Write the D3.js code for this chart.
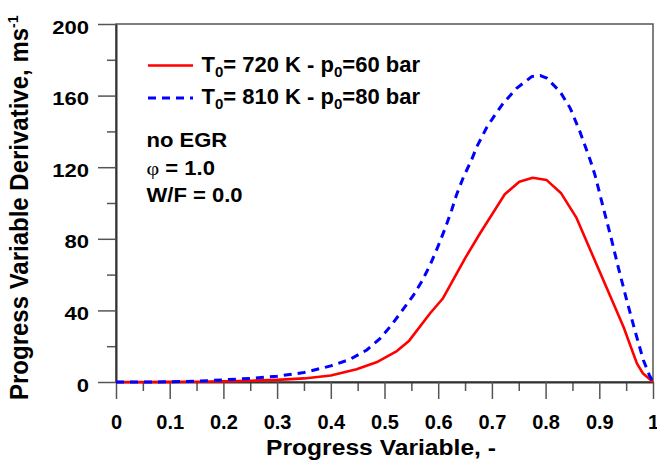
<!DOCTYPE html>
<html>
<head>
<meta charset="utf-8">
<script src="https://cdn.jsdelivr.net/npm/d3@7"></script>
<style>
  html, body { margin: 0; padding: 0; background: #fff; }
  svg { display: block; font-family: "Liberation Sans", Arial, sans-serif; font-weight: bold; }
</style>
</head>
<body>
<svg id="chart" width="657" height="465"></svg>
<script>
// Progress variable derivative vs progress variable, two initial conditions
const xRed = [0, 0.05, 0.1, 0.15, 0.2, 0.25, 0.3, 0.35, 0.4, 0.448, 0.485, 0.523, 0.546, 0.585, 0.609, 0.65, 0.678, 0.724, 0.751, 0.776, 0.802, 0.829, 0.857, 0.945, 0.97, 0.981, 1.0];
const yRed = [0, 0, 0.05, 0.15, 0.35, 0.7, 1.2, 2.0, 3.6, 7.1, 11.0, 17.3, 23.1, 38.4, 46.8, 69.1, 83.1, 104.9, 111.9, 114.1, 112.8, 105.4, 92.0, 30.9, 10.4, 4.9, 0];

const xBlue = [0, 0.05, 0.1, 0.15, 0.2, 0.25, 0.3, 0.35, 0.4, 0.436, 0.467, 0.492, 0.513, 0.532, 0.554, 0.569, 0.585, 0.6, 0.613, 0.625, 0.634, 0.647, 0.662, 0.672, 0.69, 0.703, 0.721, 0.746, 0.774, 0.79, 0.802, 0.827, 0.846, 0.864, 0.883, 0.892, 0.907, 0.923, 0.935, 0.951, 0.966, 0.982, 0.993, 1.0];
const yBlue = [0, 0, 0.1, 0.4, 1.2, 2.0, 3.2, 5.3, 9.0, 12.7, 17.9, 24.4, 31.8, 39.5, 48.5, 56.0, 65.4, 76.0, 85.9, 96.0, 104.5, 114.5, 124.0, 131.5, 142.0, 148.0, 155.7, 164.1, 170.6, 171.2, 169.8, 162.2, 152.9, 139.8, 124.0, 115.6, 97.9, 79.3, 64.4, 45.8, 29.1, 12.3, 4.0, 0];

const xTicks = [0, 0.1, 0.2, 0.3, 0.4, 0.5, 0.6, 0.7, 0.8, 0.9, 1];
const xTickLabels = ["0", "0.1", "0.2", "0.3", "0.4", "0.5", "0.6", "0.7", "0.8", "0.9", "1"];
const xMinorTicks = [0.05, 0.15, 0.25, 0.35, 0.45, 0.55, 0.65, 0.75, 0.85, 0.95];
const yTicks = [0, 40, 80, 120, 160, 200];
const yMinorTicks = [20, 60, 100, 140, 180];

const svg = d3.select("#chart");
const x = d3.scaleLinear().domain([0, 1]).range([116, 653]);
const y = d3.scaleLinear().domain([0, 200]).range([382, 24]);

// plot frame (top and right sides)
svg.append("rect")
  .attr("x", x(0)).attr("y", y(200))
  .attr("width", x(1) - x(0)).attr("height", y(0) - y(200))
  .attr("fill", "none").attr("stroke", "#555").attr("stroke-width", 1.5);

// minor ticks
svg.append("g").attr("transform", `translate(0,${y(0)})`)
  .call(d3.axisBottom(x).tickValues(xMinorTicks).tickSize(9).tickSizeOuter(0).tickFormat(""))
  .call(g => g.select(".domain").remove())
  .call(g => g.selectAll("line").attr("stroke", "#555").attr("stroke-width", 1.5));
svg.append("g").attr("transform", `translate(${x(0)},0)`)
  .call(d3.axisLeft(y).tickValues(yMinorTicks).tickSize(9).tickSizeOuter(0).tickFormat(""))
  .call(g => g.select(".domain").remove())
  .call(g => g.selectAll("line").attr("stroke", "#555").attr("stroke-width", 1.5));

// major x axis
svg.append("g").attr("transform", `translate(0,${y(0)})`)
  .call(d3.axisBottom(x).tickValues(xTicks).tickSize(17).tickSizeOuter(0)
    .tickFormat((d, i) => xTickLabels[i]))
  .call(g => g.select(".domain").attr("stroke", "#333").attr("stroke-width", 2))
  .call(g => g.selectAll("line").attr("stroke", "#555").attr("stroke-width", 1.5))
  .call(g => g.selectAll("text")
    .attr("y", 47).attr("dy", null)
    .attr("fill", "#000")
    .style("font-size", "20px").style("font-weight", "bold")
    .style("font-family", "'Liberation Sans', Arial, sans-serif"));

// major y axis
const ySx = 1.16;
svg.append("g").attr("transform", `translate(${x(0)},0)`)
  .call(d3.axisLeft(y).tickValues(yTicks).tickSize(18).tickSizeOuter(0))
  .call(g => g.select(".domain").attr("stroke", "#333").attr("stroke-width", 2))
  .call(g => g.selectAll("line").attr("stroke", "#555").attr("stroke-width", 1.5))
  .call(g => g.selectAll("text")
    .attr("x", -27 / ySx).attr("y", 9).attr("dy", null)
    .attr("transform", `scale(${ySx},1)`)
    .attr("fill", "#000")
    .style("font-size", "19px").style("font-weight", "bold")
    .style("font-family", "'Liberation Sans', Arial, sans-serif"));

// series
const line = d3.line().x(d => x(d[0])).y(d => y(d[1]));
svg.append("path")
  .datum(d3.zip(xRed, yRed))
  .attr("d", line)
  .attr("fill", "none").attr("stroke", "#ff0000").attr("stroke-width", 2.6)
  .attr("stroke-linejoin", "round");
svg.append("path")
  .datum(d3.zip(xBlue, yBlue))
  .attr("d", line)
  .attr("fill", "none").attr("stroke", "#0000ff").attr("stroke-width", 3)
  .attr("stroke-dasharray", "8,6");

// axis titles
svg.append("text")
  .attr("transform", "translate(381,455) scale(1.12,1)")
  .attr("text-anchor", "middle")
  .style("font-size", "22px")
  .text("Progress Variable, -");

const yTitle = svg.append("text")
  .attr("transform", "translate(28,400) rotate(-90) scale(1,1.07)")
  .attr("text-anchor", "start")
  .style("font-size", "24px");
yTitle.append("tspan").text("Progress Variable Derivative, ms");
yTitle.append("tspan").attr("dy", -9).style("font-size", "14px").text("-1");

// legend
const legend = svg.append("g");
legend.append("line")
  .attr("x1", 148).attr("x2", 193).attr("y1", 65.5).attr("y2", 65.5)
  .attr("stroke", "#ff0000").attr("stroke-width", 2.6);
legend.append("line")
  .attr("x1", 148).attr("x2", 193).attr("y1", 98).attr("y2", 98)
  .attr("stroke", "#0000ff").attr("stroke-width", 3).attr("stroke-dasharray", "8,6");

function legendEntry(yb, temp, pres) {
  const t = legend.append("text").attr("x", 201.5).attr("y", yb).style("font-size", "22px");
  t.append("tspan").text("T");
  t.append("tspan").attr("dy", 5).style("font-size", "15px").text("0");
  t.append("tspan").attr("dy", -5).text(`= ${temp} K - p`);
  t.append("tspan").attr("dy", 5).style("font-size", "15px").text("0");
  t.append("tspan").attr("dy", -5).text(`=${pres} bar`);
}
legendEntry(71.5, 720, 60);
legendEntry(103.5, 810, 80);

// operating conditions
const notes = svg.append("g").attr("transform", "translate(146.5,0) scale(1.13,1)");
notes.append("text").attr("x", 0).attr("y", 146.7).style("font-size", "19.5px").text("no EGR");
const phi = notes.append("text").attr("x", 0).attr("y", 175).style("font-size", "19.5px");
phi.append("tspan").style("font-family", "'Liberation Serif', 'DejaVu Serif', serif")
  .style("font-weight", "normal").text("φ");
phi.append("tspan").text(" = 1.0");
notes.append("text").attr("x", 0).attr("y", 201.7).style("font-size", "19.5px").text("W/F = 0.0");
</script>
</body>
</html>
